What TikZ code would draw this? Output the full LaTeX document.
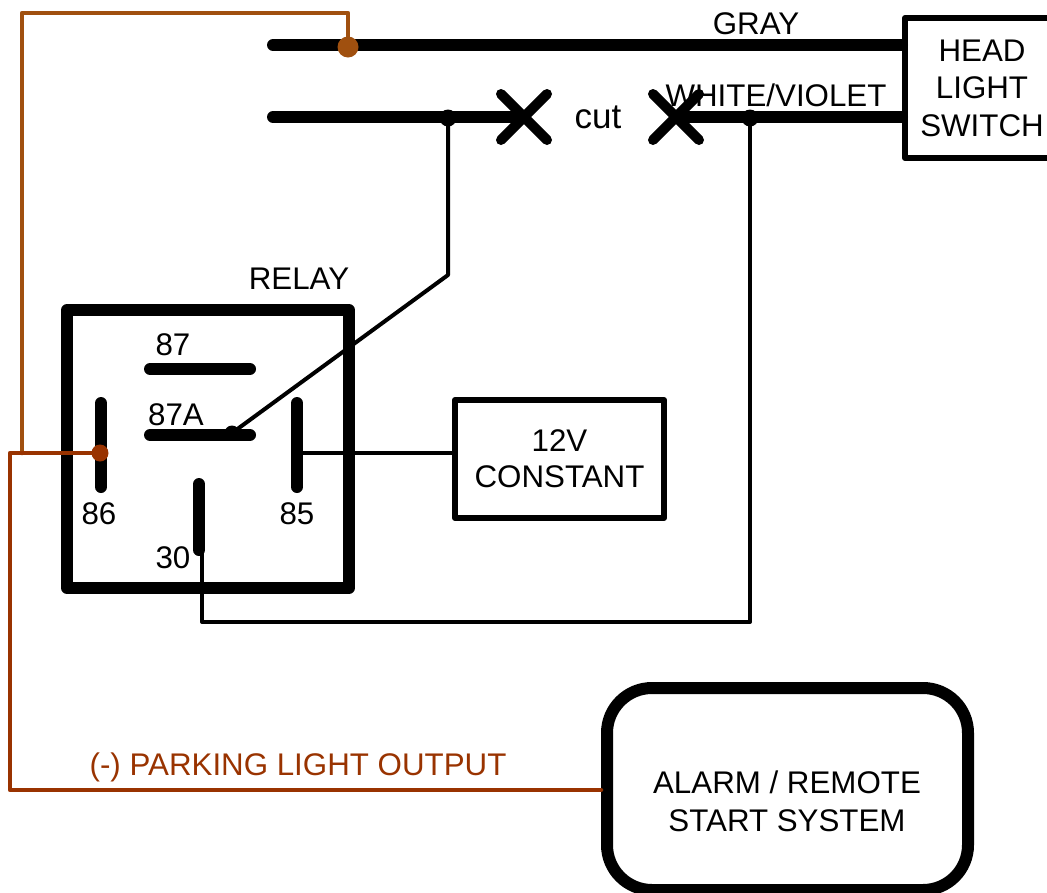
\documentclass[tikz,border=0pt]{standalone}
\usepackage{fontspec}
\setmainfont{Liberation Sans}
\usetikzlibrary{shapes.misc}
\definecolor{brownA}{RGB}{160,80,15}
\definecolor{brownB}{RGB}{153,51,0}
\begin{document}
\begin{tikzpicture}[x=1pt,y=-1pt,
  font=\fontsize{31.3}{37}\selectfont,
  wire/.style={line width=4pt},
  bus/.style={line width=12pt, line cap=round},
  pinline/.style={line width=12pt, line cap=round},
  brwire/.style={line width=4.5pt, line join=round, line cap=round},
  box/.style={draw, line width=6pt, line join=round, inner sep=0pt, align=center},
  xmark/.style={cross out, draw, line width=10pt, line cap=round, minimum size=36pt, inner sep=0pt},
  jdot/.style={circle, fill, inner sep=0pt, minimum size=#1},
  lbl/.style={inner sep=0pt}]
\useasboundingbox (0,0) rectangle (1047,892);

% boxes
\node[box, minimum width=154pt, minimum height=140pt, font=\fontsize{31.3}{37.5}\selectfont] (hls) at (982,88) {HEAD\\LIGHT\\SWITCH};
\node[box, minimum width=209pt, minimum height=118pt, font=\fontsize{31.3}{36}\selectfont] (v12) at (559.5,459) {12V\\CONSTANT};
\node[draw, line width=12pt, rounded corners=45pt, minimum width=361pt, minimum height=202pt, inner sep=0pt] (alarm) at (787.5,789) {};
\node[lbl, align=center, font=\fontsize{31.3}{38}\selectfont] (alarmtxt) at (787,801) {ALARM / REMOTE\\START SYSTEM};
\node[draw, line width=12pt, line join=round, minimum width=282pt, minimum height=278pt, inner sep=0pt] (relay) at (208,449) {};
\node[lbl] (relaylbl) at (299,279) {RELAY};

% coordinates
\coordinate (gL) at (273,45);
\coordinate (wL) at (273,117);
\coordinate (j1) at (448,117);
\coordinate (j2) at (750,117);
\coordinate (k1) at (448,275);
\coordinate (c30) at (202,622);

% gray wire
\draw[bus] (gL) -- (gL -| hls.west);
\node[lbl] (gray) at (756,24) {GRAY};

% white/violet wire with cut
\node[xmark] (x1) at (524,117) {};
\node[xmark] (x2) at (676,117) {};
\draw[bus] (wL) -- (x1.center);
\draw[bus] (x2.center) -- (x2.center -| hls.west);
\node[lbl, font=\fontsize{35}{40}\selectfont] (cut) at (598,117) {cut};
\node[lbl] (wv) at (776,95) {WHITE/VIOLET};

% relay pins
\coordinate (p87a) at (150,369); \coordinate (p87b) at (250,369);
\coordinate (pAa) at (150,435); \coordinate (pAb) at (250,435);
\coordinate (p86a) at (101,403); \coordinate (p86b) at (101,487);
\coordinate (p85a) at (297,403); \coordinate (p85b) at (297,487);
\coordinate (p30a) at (199,484); \coordinate (p30b) at (199,550);
\draw[pinline] (p87a) -- (p87b);
\draw[pinline] (pAa) -- (pAb);
\draw[pinline] (p86a) -- (p86b);
\draw[pinline] (p85a) -- (p85b);
\draw[pinline] (p30a) -- (p30b);
\node[lbl] (l87) at (173,345) {87};
\node[lbl] (l87a) at (176,415) {87A};
\node[lbl] (l86) at (99,514) {86};
\node[lbl] (l85) at (297,514) {85};
\node[lbl] (l30) at (173,558) {30};

% relay connections
\node[jdot=15pt] (dA) at (232,433) {};
\draw[wire, line join=round] (j1) -- (k1) -- (dA.center);
\draw[wire, line join=round] (j2) -- (750,622) -- (c30) -- (202,550);
\draw[wire] (303,453) -- (v12.west |- 303,453);
\node[jdot=17pt] (d1) at (448,118) {};
\node[jdot=17pt] (d2) at (750,118) {};

% brown wires
\coordinate (gtap) at (348,47);
\coordinate (p86dot) at (100,453);
\draw[brwire, brownA] (22,453) -- (22,13) -- (348,13) -- (gtap);
\node[jdot=21pt, brownA] (gdot) at (gtap) {};
\draw[brwire, brownB] (p86dot) -- (10,453) -- (10,790) -- (alarm.west |- 10,790);
\node[jdot=17pt, brownB] (d86) at (p86dot) {};
\node[lbl, text=brownB] (plo) at (298,767) {(-) PARKING LIGHT OUTPUT};
\end{tikzpicture}
\end{document}
